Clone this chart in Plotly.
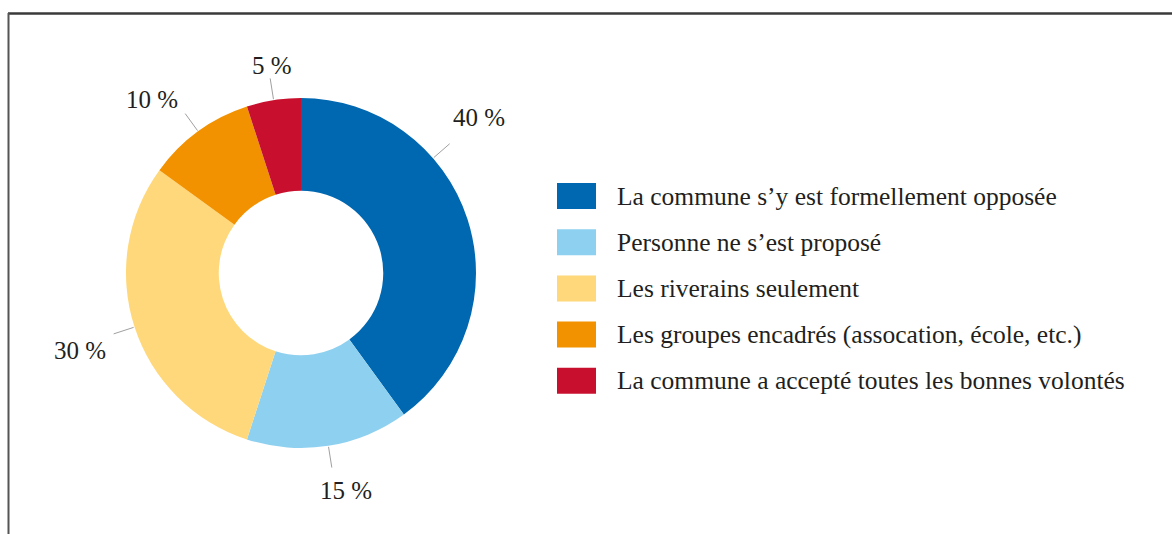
import math
import plotly.graph_objects as go

# Survey answers and their shares (%)
categories = [
    "La commune s’y est formellement opposée",
    "Personne ne s’est proposé",
    "Les riverains seulement",
    "Les groupes encadrés (assocation, école, etc.)",
    "La commune a accepté toutes les bonnes volontés",
]
shares = [40, 15, 30, 10, 5]
pct_labels = ["40 %", "15 %", "30 %", "10 %", "5 %"]

colors = ["#0067b1", "#8ed0f0", "#fed87a", "#f39200", "#c8102e"]
# angular nudge (degrees) of each leader line, and pixel fine-tuning of its label
label_nudge = [-23, 0, 0, 0, 0]
label_tweak = [(0, -8), (14, 3), (-4, 0), (-4, 5), (2, 7)]

W, H = 1172, 534
CX, CY, R = 301, 273, 175
FONT = "Liberation Serif, Times New Roman, serif"
TEXT = "#231f20"


def px(x):
    return x / W


def py(y):
    return 1 - y / H


fig = go.Figure(
    go.Pie(
        labels=categories,
        values=shares,
        hole=0.47,
        sort=False,
        direction="clockwise",
        rotation=0,
        marker=dict(colors=colors, line=dict(width=0)),
        textinfo="none",
        hoverinfo="label+percent",
        showlegend=False,
        domain=dict(x=[px(CX - R), px(CX + R)], y=[py(CY + R), py(CY - R)]),
    )
)

shapes = []
annotations = []

# Percentage labels with leader lines, placed at each slice's mid-angle
total = sum(shares)
cum = 0
for val, lab, nudge, (dx, dy) in zip(shares, pct_labels, label_nudge, label_tweak):
    mid = (cum + val / 2) / total * 360 + nudge
    cum += val
    a = math.radians(mid)
    s, c = math.sin(a), math.cos(a)
    x0, y0 = CX + (R + 1) * s, CY - (R + 1) * c
    x1, y1 = CX + (R + 22) * s, CY - (R + 22) * c
    shapes.append(dict(type="line", xref="paper", yref="paper",
                       x0=px(x0), y0=py(y0), x1=px(x1), y1=py(y1),
                       line=dict(color="#a0a0a0", width=1)))
    xa = "left" if s > 0.3 else ("right" if s < -0.3 else "center")
    ya = "bottom" if c > 0.3 else ("top" if c < -0.3 else "middle")
    annotations.append(dict(text=lab, xref="paper", yref="paper",
                            x=px(x1 + 2 * s + dx), y=py(y1 - 4 * c + dy),
                            xanchor=xa, yanchor=ya, showarrow=False,
                            font=dict(family=FONT, size=25, color=TEXT)))

# Legend: colour squares with labels
LX, LY0, STEP = 557, 196, 46.2
for i, (cat, col) in enumerate(zip(categories, colors)):
    yc = LY0 + i * STEP
    shapes.append(dict(type="rect", xref="paper", yref="paper",
                       x0=px(LX), x1=px(LX + 39), y0=py(yc + 13), y1=py(yc - 13),
                       fillcolor=col, line=dict(width=0)))
    annotations.append(dict(text=cat, xref="paper", yref="paper",
                            x=px(615), y=py(yc), xanchor="left", yanchor="middle",
                            showarrow=False,
                            font=dict(family=FONT, size=25.5, color=TEXT)))

# Frame lines (top and left)
shapes.append(dict(type="line", xref="paper", yref="paper",
                   x0=px(8), x1=1, y0=py(13.5), y1=py(13.5),
                   line=dict(color="#3a3a3a", width=2.5)))
shapes.append(dict(type="line", xref="paper", yref="paper",
                   x0=px(8.5), x1=px(8.5), y0=py(13), y1=0,
                   line=dict(color="#555555", width=2)))

fig.update_layout(
    width=W, height=H,
    margin=dict(l=0, r=0, t=0, b=0),
    paper_bgcolor="white", plot_bgcolor="white",
    shapes=shapes, annotations=annotations,
)

fig.write_html("out.html")
